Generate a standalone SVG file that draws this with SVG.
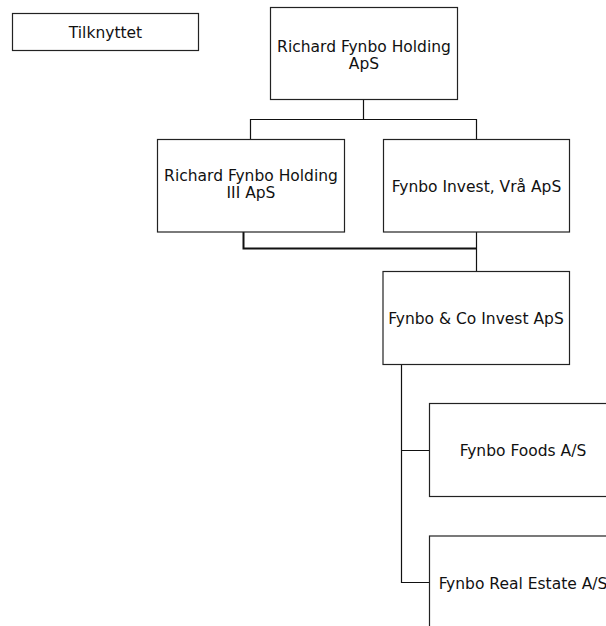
<svg xmlns="http://www.w3.org/2000/svg" width="606" height="626" viewBox="0 0 606 626">
<style>
.box{fill:#fff;stroke:#222;stroke-width:1.2}
.lbl{font-family:"DejaVu Sans",Verdana,sans-serif;font-size:15.5px;fill:#111;text-anchor:middle}
.con{fill:none;stroke:#111;stroke-width:1.2}
</style>
<rect width="606" height="626" fill="#fff"/>
<g id="connectors">
<path class="con" d="M363.5 99.5V119.5M250.5 139V119.5H476.5V139"/>
<path class="con" d="M243.5 232V248.5H476.5" style="stroke-width:2"/>
<path class="con" d="M476.5 232V271"/>
<path class="con" d="M401.5 365V582.5H429.5M401.5 450.5H429.5"/>
</g>
<g id="legend">
<rect class="box" x="12.5" y="13.5" width="186" height="37"/>
<text class="lbl" x="105.5" y="37.5">Tilknyttet</text>
</g>
<g id="n1">
<rect class="box" x="270.5" y="7.5" width="187" height="92"/>
<text class="lbl" x="364" y="51.5">Richard Fynbo Holding</text>
<text class="lbl" x="364" y="69">ApS</text>
</g>
<g id="n2">
<rect class="box" x="157.5" y="139.5" width="187" height="92.5"/>
<text class="lbl" x="251" y="180.5">Richard Fynbo Holding</text>
<text class="lbl" x="251" y="198">III ApS</text>
</g>
<g id="n3">
<rect class="box" x="383.5" y="139.5" width="186" height="92.5"/>
<text class="lbl" x="476.5" y="191.5">Fynbo Invest, Vrå ApS</text>
</g>
<g id="n4">
<rect class="box" x="383" y="271.5" width="186.5" height="93"/>
<text class="lbl" x="476" y="324">Fynbo &amp; Co Invest ApS</text>
</g>
<g id="n5">
<rect class="box" x="429.5" y="403.5" width="187" height="93"/>
<text class="lbl" x="523" y="456">Fynbo Foods A/S</text>
</g>
<g id="n6">
<rect class="box" x="429.5" y="536" width="187" height="93"/>
<text class="lbl" x="523" y="588.5">Fynbo Real Estate A/S</text>
</g>
</svg>
